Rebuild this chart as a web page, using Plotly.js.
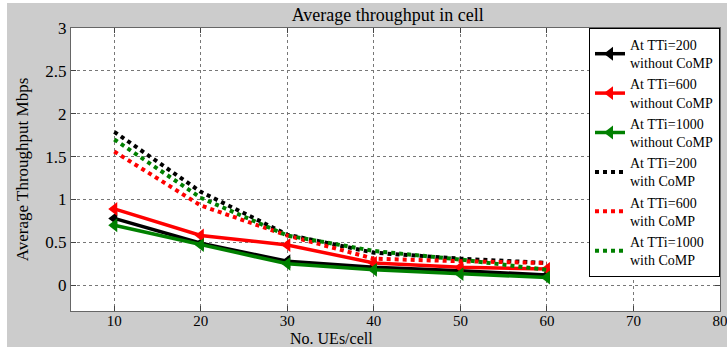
<!DOCTYPE html>
<html><head><meta charset="utf-8">
<script src="https://cdn.plot.ly/plotly-3.0.1.min.js"></script>
<style>html,body{margin:0;padding:0;background:#fff;width:727px;height:347px;overflow:hidden}
#chart{position:absolute;left:7px;top:3px;width:720px;height:344px}</style>
</head><body><div id="chart"></div>
<script>
const ues = [10, 20, 30, 40, 50, 60];
const tti200NoComp  = [0.78, 0.49, 0.28, 0.21, 0.17, 0.12];
const tti600NoComp  = [0.89, 0.58, 0.47, 0.26, 0.21, 0.19];
const tti1000NoComp = [0.70, 0.47, 0.25, 0.18, 0.13, 0.09];
const tti200Comp    = [1.79, 1.09, 0.59, 0.38, 0.31, 0.26];
const tti600Comp    = [1.56, 0.93, 0.58, 0.31, 0.28, 0.26];
const tti1000Comp   = [1.70, 1.02, 0.58, 0.40, 0.30, 0.18];
const names = ["At TTi=200<br>without CoMP","At TTi=600<br>without CoMP","At TTi=1000<br>without CoMP",
               "At TTi=200<br>with CoMP","At TTi=600<br>with CoMP","At TTi=1000<br>with CoMP"];
const xTicks = [10,20,30,40,50,60,70,80];
const yTicks = [0,0.5,1,1.5,2,2.5,3];
const colors = ["#000000","#ff0000","#008000"];

const serif = "Liberation Serif";
const solid = [tti200NoComp, tti600NoComp, tti1000NoComp];
const dotted = [tti200Comp, tti600Comp, tti1000Comp];
const traces = [];
solid.forEach((ys,i)=>traces.push({x:ues,y:ys,name:names[i],type:'scatter',mode:'lines+markers',
  line:{color:colors[i],width:3.5},marker:{symbol:'triangle-left',size:12,color:colors[i]}}));
dotted.forEach((ys,i)=>traces.push({x:ues,y:ys,name:names[i+3],type:'scatter',mode:'lines',
  line:{color:colors[i],width:4,dash:'dot'}}));

const layout = {
  width:720, height:344,
  paper_bgcolor:'#cccccc', plot_bgcolor:'#ffffff',
  margin:{l:64,r:7,t:25,b:36},
  font:{family:serif,size:16,color:'#000'},
  title:{text:'Average throughput in cell',font:{family:serif,size:18,color:'#000'},
    xref:'paper',x:0.488,xanchor:'center',yref:'container',y:0.965,yanchor:'middle'},
  showlegend:true,
  legend:{x:1,y:1,xanchor:'right',yanchor:'top',bgcolor:'#ffffff',bordercolor:'#000',borderwidth:1,
    font:{family:serif,size:14,color:'#000'},tracegroupgap:0,itemwidth:30},
  xaxis:{range:[5,80],tickvals:xTicks,ticktext:xTicks.map(String),showgrid:true,gridcolor:'#777',griddash:'dot',
    gridwidth:1,zeroline:false,showline:true,linecolor:'#666',linewidth:1,mirror:'ticks',ticks:'inside',ticklen:5,
    tickcolor:'#444',tickfont:{family:serif,size:15,color:'#000'},ticklabeloverflow:'allow',ticklabelstandoff:-4,title:{text:''}},
  yaxis:{range:[-0.3,3],tickvals:yTicks,ticktext:yTicks.map(String),showgrid:true,gridcolor:'#777',griddash:'dot',
    gridwidth:1,zeroline:false,showline:true,linecolor:'#666',linewidth:1,mirror:'ticks',ticks:'inside',ticklen:5,
    tickcolor:'#444',tickfont:{family:serif,size:17,color:'#000'},
    title:{text:'Average Throughput Mbps',font:{family:serif,size:17,color:'#000'},standoff:12}},
  annotations:[{text:'No. UEs/cell',xref:'paper',yref:'paper',x:(331-71)/(720-71),y:-0.097,xanchor:'center',yanchor:'middle',
    showarrow:false,font:{family:serif,size:16,color:'#000'}}]
};
Plotly.newPlot('chart',traces,layout,{displayModeBar:false,staticPlot:true});
</script></body></html>
